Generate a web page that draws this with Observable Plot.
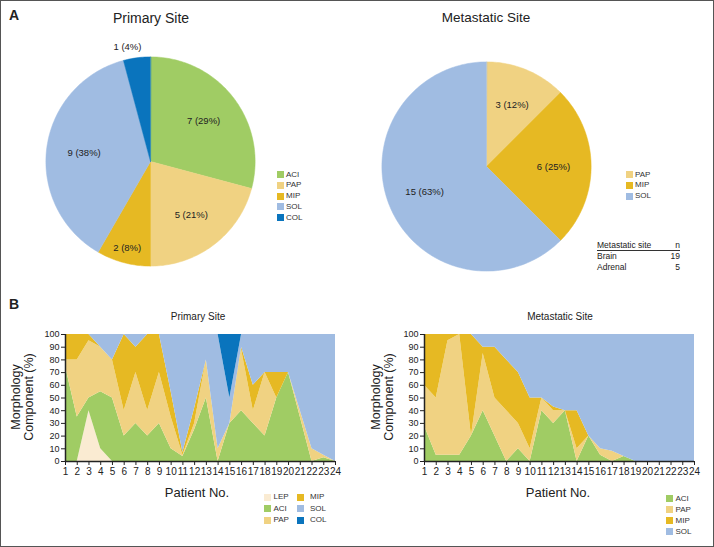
<!DOCTYPE html>
<html><head><meta charset="utf-8">
<script src="https://cdn.jsdelivr.net/npm/d3@7"></script>
<script src="https://cdn.jsdelivr.net/npm/@observablehq/plot@0.6"></script>
<style>
body{margin:0;background:#fff;font-family:"Liberation Sans",Arial,Helvetica,sans-serif;color:#222;}
#fig{position:relative;width:714px;height:547px;box-sizing:border-box;border:1px solid #555;overflow:hidden;background:#fff;}
.abs{position:absolute;white-space:nowrap;}
.sw{position:absolute;width:7px;height:7px;}
.lg{position:absolute;font-size:8px;line-height:8px;color:#333;white-space:nowrap;}
</style></head><body><div id="fig"></div>
<script>
// ---------- data ----------
const types = ["LEP", "ACI", "PAP", "MIP", "SOL", "COL"];
const typeColors = ["#faebd2", "#a0cc64", "#f0d282", "#e6b923", "#a0bce2", "#0a74bd"];

const patients = [1,2,3,4,5,6,7,8,9,10,11,12,13,14,15,16,17,18,19,20,21,22,23,24];
const yTicks = [0,10,20,30,40,50,60,70,80,90,100];

// Primary site morphology components (%)
const primLEP = [0,0,40,10,0,0,0,0,0,0,0,0,0,0,0,0,0,0,0,0,0,0,0,0];
const primACI = [75,35,10,45,50,20,30,20,30,10,4,25,50,0,30,40,30,20,50,70,35,0,3,0];
const primPAP = [5,45,45,35,30,20,40,20,40,25,1,5,30,10,0,48,10,50,0,0,5,10,2,0];
const primMIP = [20,20,5,0,0,60,20,60,30,20,2,12,0,0,0,2,20,0,20,0,0,0,0,0];
const primSOL = [0,0,0,10,20,0,10,0,0,45,93,58,20,90,20,10,40,30,30,30,60,90,95,100];
const primCOL = [0,0,0,0,0,0,0,0,0,0,0,0,0,0,50,0,0,0,0,0,0,0,0,0];

// Metastatic site morphology components (%)
const metACI = [28,5,5,5,20,40,20,0,10,0,40,30,40,0,20,5,0,4,0,0,0,0,0,0];
const metPAP = [32,45,90,95,0,45,30,40,20,10,10,10,0,10,0,5,8,0,0,0,0,0,0,0];
const metMIP = [40,50,5,0,80,5,40,40,40,40,0,3,0,30,0,0,0,0,0,0,0,0,0,0];
const metSOL = [0,0,0,0,0,10,10,20,30,50,50,57,60,60,80,90,92,96,100,100,100,100,100,100];

// Pie data
const primPieTypes = ["ACI", "PAP", "MIP", "SOL", "COL"];
const primPieCounts = [7, 5, 2, 9, 1];
const primPiePct = [29, 21, 8, 38, 4];
const metPieTypes = ["PAP", "MIP", "SOL"];
const metPieCounts = [3, 6, 15];
const metPiePct = [12, 25, 63];

// Metastatic site table
const tableSites = ["Brain", "Adrenal"];
const tableN = [19, 5];

const primLegendTypes = ["LEP", "ACI", "PAP", "MIP", "SOL", "COL"];
const metLegendTypes = ["ACI", "PAP", "MIP", "SOL"];

// ---------- helpers ----------
const fig = document.getElementById("fig");
const FONT = "Liberation Sans, Arial, Helvetica, sans-serif";
const colorOf = t => typeColors[types.indexOf(t)];

function place(node, left, top) {
  const d = document.createElement("div");
  d.className = "abs";
  d.style.left = left + "px";
  d.style.top = top + "px";
  d.appendChild(node);
  fig.appendChild(d);
  return d;
}
function text(str, cx, cy, size, opts = {}) {
  const d = document.createElement("div");
  d.className = "abs";
  d.textContent = str;
  d.style.fontSize = size + "px";
  d.style.lineHeight = size + "px";
  d.style.left = cx + "px";
  d.style.top = cy + "px";
  d.style.transform = opts.transform || "translate(-50%,-50%)";
  if (opts.weight) d.style.fontWeight = opts.weight;
  if (opts.color) d.style.color = opts.color;
  fig.appendChild(d);
  return d;
}
function legend(list, swX, txX, y0, dy) {
  list.forEach((t, i) => {
    const cy = y0 + i * dy;
    const s = document.createElement("div");
    s.className = "sw";
    s.style.left = swX + "px";
    s.style.top = (cy - 3.5) + "px";
    s.style.background = colorOf(t);
    fig.appendChild(s);
    const l = document.createElement("div");
    l.className = "lg";
    l.textContent = t;
    l.style.left = txX + "px";
    l.style.top = (cy - 4) + "px";
    fig.appendChild(l);
  });
}

// ---------- pies ----------
function pie(pTypes, counts, pcts) {
  const rows = pTypes.map((t, i) => ({type: t, n: counts[i], pct: pcts[i]}));
  const total = d3.sum(counts);
  const arcs = d3.pie().sort(null).value(d => d.n)(rows);
  const pts = [];
  const labels = [];
  arcs.forEach(a => {
    const t = a.data.type;
    pts.push({type: t, x: 0, y: 0});
    const steps = Math.max(2, Math.ceil((a.endAngle - a.startAngle) / 0.02));
    for (let i = 0; i <= steps; i++) {
      const ang = a.startAngle + (a.endAngle - a.startAngle) * i / steps;
      pts.push({type: t, x: Math.sin(ang), y: Math.cos(ang)});
    }
    const mid = (a.startAngle + a.endAngle) / 2;
    const share = a.data.n / total;
    const r = share < 0.05 ? 1.1 : share < 0.1 ? 0.86 : 0.64;
    labels.push({x: r * Math.sin(mid), y: r * Math.cos(mid), label: `${a.data.n} (${a.data.pct}%)`, outside: share < 0.05});
  });
  return Plot.plot({
    width: 272, height: 272, margin: 0,
    x: {domain: [-1.3, 1.3], axis: null},
    y: {domain: [-1.3, 1.3], axis: null},
    color: {domain: types, range: typeColors},
    style: {fontFamily: FONT, overflow: "visible", background: "transparent"},
    marks: [
      Plot.line(pts, {x: "x", y: "y", z: "type", fill: "type", stroke: "type", strokeWidth: 0.5, curve: "linear-closed"}),
      Plot.text(labels.filter(d => !d.outside), {x: "x", y: "y", text: "label", fontSize: 9.5, fill: "#222"}),
      Plot.text(labels.filter(d => d.outside), {x: "x", y: "y", text: "label", fontSize: 9.5, fill: "#222", textAnchor: "end", dx: 6})
    ]
  });
}

// ---------- stacked area charts ----------
function areaChart(seriesTypes, seriesArrays) {
  const long = [];
  seriesTypes.forEach((t, k) => {
    patients.forEach((p, i) => long.push({patient: p, type: t, value: seriesArrays[k][i]}));
  });
  return Plot.plot({
    width: 345, height: 172,
    marginLeft: 64, marginRight: 11, marginTop: 13, marginBottom: 32,
    x: {domain: [1, 24], label: null},
    y: {domain: [0, 100], label: null},
    color: {domain: types, range: typeColors},
    style: {fontFamily: FONT, fontSize: "10px", color: "#222", overflow: "visible", background: "transparent"},
    marks: [
      Plot.areaY(long, {x: "patient", y: "value", fill: "type", curve: "linear"}),
      Plot.axisX(patients, {tickSize: 4, tickPadding: 2, fontSize: 10, label: null, tickFormat: d => String(d)}),
      Plot.axisY(yTicks, {tickSize: 4, tickPadding: 2, fontSize: 9, label: null}),
      Plot.ruleX([1], {stroke: "#222", strokeWidth: 1.5}),
      Plot.ruleY([0], {stroke: "#222", strokeWidth: 1.5})
    ]
  });
}

// ---------- panel A ----------
text("A", 13, 14, 14, {weight: "bold"});
text("Primary Site", 150, 17, 14);
text("Metastatic Site", 485, 17, 13.5);
place(pie(primPieTypes, primPieCounts, primPiePct), 149 - 136, 160 - 136);
place(pie(metPieTypes, metPieCounts, metPiePct), 485 - 136, 165 - 136);
legend(primPieTypes, 276, 285, 173.5, 10.8);
legend(metPieTypes, 625, 634, 173.5, 10.8);

// table
(function () {
  const hdr = document.createElement("div");
  hdr.className = "abs";
  hdr.style.left = "596px"; hdr.style.top = "240px"; hdr.style.width = "83px";
  hdr.style.fontSize = "8.5px"; hdr.style.lineHeight = "9px";
  hdr.style.borderBottom = "0.8px solid #333"; hdr.style.color = "#222";
  hdr.innerHTML = "<span>Metastatic site</span><span style='float:right'>n</span>";
  fig.appendChild(hdr);
  tableSites.forEach((s, i) => {
    const r = document.createElement("div");
    r.className = "abs";
    r.style.left = "596px"; r.style.top = (251 + i * 11) + "px"; r.style.width = "83px";
    r.style.fontSize = "8.5px"; r.style.lineHeight = "9px"; r.style.color = "#222";
    r.innerHTML = `<span>${s}</span><span style='float:right'>${tableN[i]}</span>`;
    fig.appendChild(r);
  });
})();

// ---------- panel B ----------
text("B", 13, 303, 14, {weight: "bold"});
place(areaChart(types, [primLEP, primACI, primPAP, primMIP, primSOL, primCOL]), 0, 320);
place(areaChart(["ACI", "PAP", "MIP", "SOL"], [metACI, metPAP, metMIP, metSOL]), 359, 320);

text("Primary Site", 197, 316, 10);
text("Metastatic Site", 559, 316, 10);
text("Patient No.", 196, 491, 13);
text("Patient No.", 557, 491, 13);

[22, 382].forEach(cx => {
  const d = document.createElement("div");
  d.className = "abs";
  d.innerHTML = "Morphology<br>Component (%)";
  d.style.fontSize = "12.5px";
  d.style.lineHeight = "13px";
  d.style.textAlign = "center";
  d.style.left = cx + "px";
  d.style.top = "396px";
  d.style.transform = "translate(-50%,-50%) rotate(-90deg)";
  fig.appendChild(d);
});

legend(primLegendTypes.slice(0, 3), 263, 272.5, 496, 11.6);
legend(primLegendTypes.slice(3), 296, 309, 496, 11.6);
legend(metLegendTypes, 665, 674.5, 497.5, 11);
</script></body></html>
